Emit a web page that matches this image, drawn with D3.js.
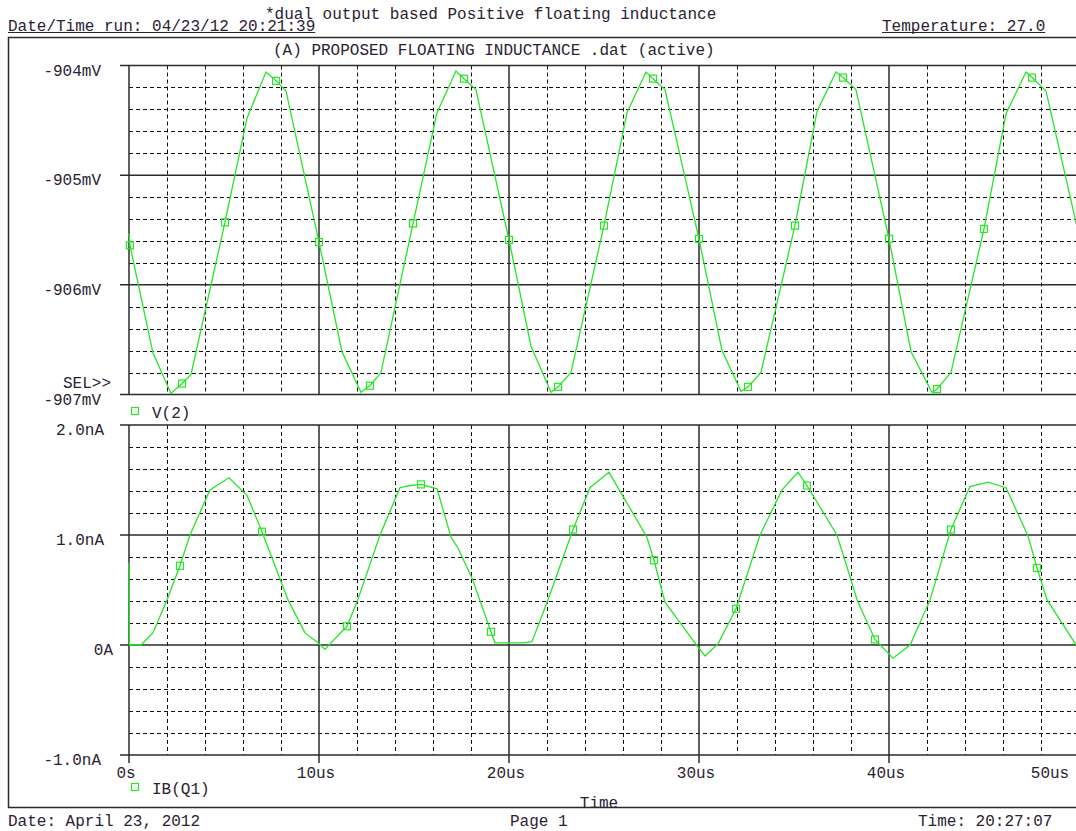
<!DOCTYPE html>
<html><head><meta charset="utf-8">
<script src="https://cdn.jsdelivr.net/npm/d3@7"></script>
<style>
html,body{margin:0;padding:0;background:#fff;overflow:hidden}
svg{display:block}
text{font-family:"Liberation Mono",monospace;font-size:16px;fill:#2a2232}
</style></head><body><svg id="chart" width="1076" height="831"></svg>
<script>
/* PSpice probe printout: V(2) and IB(Q1) vs time. Times in us, V(2) in mV, IB(Q1) in nA. */

// V(2) trace vertices, [t, mV]
const v2Line = [
  [0,-905.53],[0.05,-905.64],[1.26,-906.62],[2.21,-906.99],[2.79,-906.90],[3.26,-906.82],[5.05,-905.43],[6.21,-904.48],[7.21,-904.06],[7.74,-904.14],[8.26,-904.23],[10.0,-905.61],
  [11.21,-906.61],[12.21,-906.98],[12.68,-906.92],[13.26,-906.80],[14.95,-905.44],[16.21,-904.43],[17.21,-904.05],[17.63,-904.12],[18.26,-904.22],[20.0,-905.59],
  [21.16,-906.56],[22.21,-906.98],[22.58,-906.93],[23.26,-906.80],[25.0,-905.46],[26.21,-904.43],[27.21,-904.06],[27.58,-904.12],[28.21,-904.22],[30.0,-905.58],
  [31.21,-906.60],[32.21,-906.97],[32.58,-906.93],[33.26,-906.80],[35.05,-905.46],[36.21,-904.42],[37.21,-904.06],[37.58,-904.11],[38.26,-904.22],[40.0,-905.58],
  [41.16,-906.61],[42.26,-906.98],[42.53,-906.95],[43.26,-906.80],[45.0,-905.49],[46.16,-904.44],[47.21,-904.06],[47.53,-904.11],[48.26,-904.23],[50.0,-905.55]
];
const v2Marks = [
  [0.05,-905.64],[2.79,-906.90],[5.05,-905.43],[7.74,-904.14],[10.0,-905.61],[12.68,-906.92],[14.95,-905.44],[17.63,-904.12],
  [20.0,-905.59],[22.58,-906.93],[25.0,-905.46],[27.58,-904.12],[30.0,-905.58],[32.58,-906.93],[35.05,-905.46],[37.58,-904.11],
  [40.0,-905.58],[42.53,-906.95],[45.0,-905.49],[47.53,-904.11]
];

// IB(Q1) trace vertices, [t, nA]
const ibLine = [
  [0,0.75],[0.02,0],[0.63,0],[1.26,0.11],[2.0,0.41],[2.68,0.72],[3.21,1.0],[4.26,1.41],[5.26,1.52],[6.21,1.36],[7.0,1.03],[8.37,0.41],[9.26,0.11],[9.95,0.02],[10.32,-0.04],[10.58,0.01],
  [11.47,0.17],[12.0,0.39],[13.21,1.0],[14.26,1.43],[14.79,1.45],[15.37,1.46],[16.21,1.42],[16.95,0.98],[17.32,0.88],[18.05,0.61],[19.05,0.12],[19.26,0.02],[20.74,0.02],[21.21,0.03],
  [22.05,0.41],[23.37,1.05],[24.26,1.43],[25.26,1.57],[27.26,0.98],[27.63,0.77],[28.21,0.39],[29.95,-0.02],[30.32,-0.10],[31.0,0.01],
  [31.95,0.33],[33.21,1.0],[34.37,1.41],[35.21,1.57],[35.68,1.45],[37.26,1.0],[37.95,0.62],[38.32,0.41],[39.26,0.05],[40.21,-0.12],[41.11,0],
  [42.16,0.41],[43.26,1.05],[44.26,1.44],[45.21,1.48],[46.16,1.43],[47.32,0.99],[47.79,0.70],[48.32,0.41],[50.0,-0.04]
];
const ibMarks = [
  [2.68,0.72],[7.0,1.03],[11.47,0.17],[15.37,1.46],[19.05,0.12],[23.37,1.05],
  [27.63,0.77],[31.95,0.33],[35.68,1.45],[39.26,0.05],[43.26,1.05],[47.79,0.70]
];

const vTicks = [-904, -905, -906, -907];
const vTickLabels = ["-904mV", "-905mV", "-906mV", "-907mV"];
const iTicks = [2, 1, 0, -1];
const iTickLabels = ["2.0nA", "1.0nA", "0A", "-1.0nA"];
const tTicks = [0, 10, 20, 30, 40, 50];
const tTickLabels = ["0s", "10us", "20us", "30us", "40us", "50us"];

const GREEN = "#26e626", GRID = "#111", AXIS = "#2b2b2b";
const W = 1076;
const svg = d3.select("#chart");

const x = d3.scaleLinear().domain([0, 50]).range([129, 1079]);
const yV = d3.scaleLinear().domain([-904, -907]).range([65.5, 394.5]);
const yI = d3.scaleLinear().domain([2, -1]).range([425, 755]);

// ---------- page header / frame ----------
function underlined(tx, ty, str) {
  const t = svg.append("text").attr("x", tx).attr("y", ty).text(str);
  const len = t.node().getComputedTextLength();
  svg.append("line").attr("x1", tx).attr("x2", tx + len).attr("y1", ty + 1.5).attr("y2", ty + 1.5)
    .attr("stroke", "#2a2232").attr("stroke-width", 1);
}
svg.append("text").attr("x", 265).attr("y", 19).text("*dual output based Positive floating inductance");
underlined(8, 31, "Date/Time run: 04/23/12 20:21:39");
underlined(882, 31, "Temperature: 27.0");

svg.append("path").attr("d", `M${W},37.5H8.5V807.5H${W}`).attr("fill", "none").attr("stroke", AXIS).attr("stroke-width", 1.5);
svg.append("text").attr("x", 273).attr("y", 55).text("(A) PROPOSED FLOATING INDUCTANCE .dat (active)");

// ---------- one plot panel ----------
function panel(y, ticks, labels, line, marks, legend, legendY) {
  const [y0, y1] = y.range();
  const g = svg.append("g");
  const step = (ticks[0] - ticks[1]) / 5;
  const minorY = d3.range(ticks[ticks.length - 1], ticks[0] + step / 2, step)
    .filter(v => !ticks.some(t => Math.abs(t - v) < step / 10));
  const minorX = d3.range(0, 50.01, 2).filter(t => t % 10 !== 0);

  g.selectAll("line.hmin").data(minorY).join("line").attr("class", "hmin")
    .attr("x1", x(0)).attr("x2", W).attr("y1", d => Math.round(y(d)) + 0.5).attr("y2", d => Math.round(y(d)) + 0.5)
    .attr("stroke", GRID).attr("stroke-dasharray", "4,3");
  g.selectAll("line.vmin").data(minorX).join("line").attr("class", "vmin")
    .attr("x1", d => Math.round(x(d)) + 0.5).attr("x2", d => Math.round(x(d)) + 0.5).attr("y1", y0).attr("y2", y1)
    .attr("stroke", GRID).attr("stroke-dasharray", "4,3");

  g.selectAll("line.hmaj").data(ticks).join("line").attr("class", "hmaj")
    .attr("x1", x(0) - 9).attr("x2", W).attr("y1", d => y(d)).attr("y2", d => y(d))
    .attr("stroke", AXIS).attr("stroke-width", 1.5);
  g.selectAll("line.vmaj").data(tTicks).join("line").attr("class", "vmaj")
    .attr("x1", d => x(d)).attr("x2", d => x(d)).attr("y1", y0).attr("y2", y1)
    .attr("stroke", AXIS).attr("stroke-width", 1.5);

  g.selectAll("text.yl").data(ticks).join("text").attr("class", "yl")
    .attr("text-anchor", "end")
    .attr("x", (d, i) => 119 - 3 * labels[i].length)
    .attr("y", d => y(d) + 10).text((d, i) => labels[i]);

  g.append("path").datum(line)
    .attr("d", d3.line().x(d => x(d[0])).y(d => y(d[1])))
    .attr("fill", "none").attr("stroke", GREEN).attr("stroke-width", 1.3);
  g.selectAll("rect.mk").data(marks).join("rect").attr("class", "mk")
    .attr("x", d => x(d[0]) - 3.5).attr("y", d => y(d[1]) - 3.5).attr("width", 7).attr("height", 7)
    .attr("fill", "none").attr("stroke", GREEN).attr("stroke-width", 1.2);

  g.append("rect").attr("x", 131.5).attr("y", legendY - 10.5).attr("width", 7).attr("height", 7)
    .attr("fill", "none").attr("stroke", GREEN).attr("stroke-width", 1.2);
  g.append("text").attr("x", 152).attr("y", legendY).text(legend);
  return g;
}

panel(yV, vTicks, vTickLabels, v2Line, v2Marks, "V(2)", 418);
svg.append("text").attr("x", 63).attr("y", 388).text("SEL>>");
const gI = panel(yI, iTicks, iTickLabels, ibLine, ibMarks, "IB(Q1)", 794);

// x-axis ticks and labels under the lower plot
gI.selectAll("line.xt").data(tTicks).join("line").attr("class", "xt")
  .attr("x1", d => x(d)).attr("x2", d => x(d)).attr("y1", 755).attr("y2", 763)
  .attr("stroke", AXIS).attr("stroke-width", 1.5);
gI.selectAll("text.xl").data(tTicks).join("text").attr("class", "xl")
  .attr("text-anchor", "middle")
  .attr("x", d => Math.min(x(d) - 3, 1050)).attr("y", 778)
  .text((d, i) => tTickLabels[i]);
svg.append("text").attr("x", 599).attr("y", 808).attr("text-anchor", "middle").text("Time");

// ---------- footer ----------
svg.append("text").attr("x", 8).attr("y", 826).text("Date: April 23, 2012");
svg.append("text").attr("x", 510).attr("y", 826).text("Page 1");
svg.append("text").attr("x", 918).attr("y", 826).text("Time: 20:27:07");
</script></body></html>
